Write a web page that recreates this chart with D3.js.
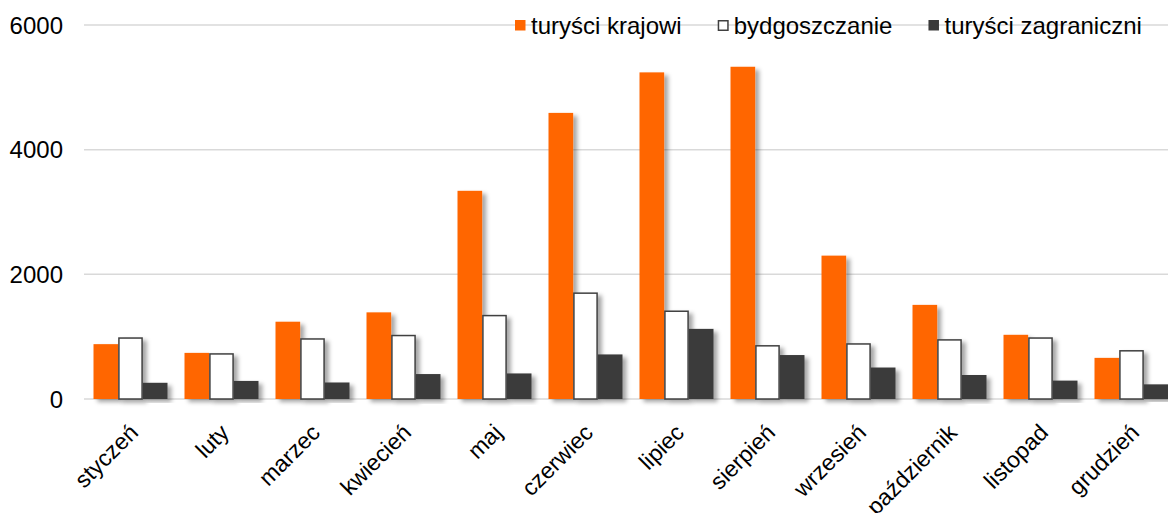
<!DOCTYPE html>
<html>
<head>
<meta charset="utf-8">
<script src="https://cdn.jsdelivr.net/npm/d3@7/dist/d3.min.js"></script>
<style>
  html, body { margin: 0; padding: 0; background: #fff; }
  svg { display: block; font-family: "Liberation Sans", Arial, sans-serif; }
</style>
</head>
<body>
<svg id="chart" width="1168" height="513"></svg>
<script>
const months = ["styczeń","luty","marzec","kwiecień","maj","czerwiec","lipiec","sierpień","wrzesień","październik","listopad","grudzień"];
const seriesNames = ["turyści krajowi","bydgoszczanie","turyści zagraniczni"];
const krajowi = [880, 740, 1240, 1390, 3340, 4590, 5240, 5330, 2300, 1510, 1030, 660];
const bydgoszczanie = [990, 735, 975, 1030, 1350, 1710, 1420, 865, 895, 960, 990, 785];
const zagraniczni = [260, 290, 265, 400, 410, 715, 1125, 705, 505, 385, 295, 235];
const yTicks = [0, 2000, 4000, 6000];

const seriesValues = [krajowi, bydgoszczanie, zagraniczni];
const fills = ["#FF6600", "#FFFFFF", "#3A3A3A"];
const strokes = ["none", "#404040", "none"];

const svg = d3.select("#chart");
const W = 1168, H = 513;

const defs = svg.append("defs");
const f = defs.append("filter").attr("id", "shadow")
  .attr("x", "-30%").attr("y", "-10%").attr("width", "170%").attr("height", "130%");
f.append("feDropShadow").attr("dx", 4).attr("dy", 3).attr("stdDeviation", 2)
  .attr("flood-color", "#000").attr("flood-opacity", 0.35);

const x0 = d3.scaleBand().domain(months).range([85, 1177]).paddingInner(0.187).paddingOuter(0.0935);
const x1 = d3.scaleBand().domain(seriesNames).range([0, x0.bandwidth()]).padding(0);
const y = d3.scaleLinear().domain([0, 6000]).range([399, 25]);

// gridlines
const grid = svg.append("g");
grid.selectAll("line").data(yTicks).join("line")
  .attr("x1", 84).attr("x2", W)
  .attr("y1", d => y(d)).attr("y2", d => y(d))
  .attr("stroke", "#d9d9d9").attr("stroke-width", 1.5);

// y labels
svg.append("g").selectAll("text").data(yTicks).join("text")
  .attr("x", 63).attr("y", d => y(d)).attr("dy", "0.36em")
  .attr("text-anchor", "end").attr("font-size", 24).attr("fill", "#000")
  .text(d => d);

// bars
const groups = svg.append("g").selectAll("g").data(months).join("g")
  .attr("transform", m => `translate(${x0(m)},0)`);
groups.selectAll("rect").data((m, i) => seriesNames.map((s, k) => ({ s, k, v: seriesValues[k][i] })))
  .join("rect")
  .attr("x", d => x1(d.s) + (d.k === 1 ? 0.75 : 0))
  .attr("width", d => x1.bandwidth() - (d.k === 1 ? 1.5 : 0))
  .attr("y", d => y(d.v) + (d.k === 1 ? 0.75 : 0))
  .attr("height", d => y(0) - y(d.v) - (d.k === 1 ? 0.75 : 0))
  .attr("fill", d => fills[d.k])
  .attr("stroke", d => strokes[d.k])
  .attr("stroke-width", 1.5)
  .attr("filter", "url(#shadow)");

// x labels
svg.append("g").selectAll("text").data(months).join("text")
  .attr("transform", m => `translate(${x0(m) + x0.bandwidth() / 2 + 9},434) rotate(-45)`)
  .attr("text-anchor", "end")
  .attr("font-size", 23).attr("fill", "#000")
  .text(m => m);

// legend
const leg = svg.append("g");
let lx = 515;
seriesNames.forEach((s, k) => {
  leg.append("rect").attr("x", lx + (k === 1 ? 0.75 : 0)).attr("y", 20 + (k === 1 ? 0.75 : 0))
    .attr("width", k === 1 ? 9.5 : 10.5).attr("height", k === 1 ? 9.5 : 10.5)
    .attr("fill", fills[k]).attr("stroke", strokes[k]).attr("stroke-width", 1.5);
  const t = leg.append("text").attr("x", lx + 16).attr("y", 25).attr("dy", "0.36em")
    .attr("font-size", 24).attr("fill", "#000").text(s);
  lx = lx + 16 + t.node().getComputedTextLength() + 36;
});
</script>
</body>
</html>
